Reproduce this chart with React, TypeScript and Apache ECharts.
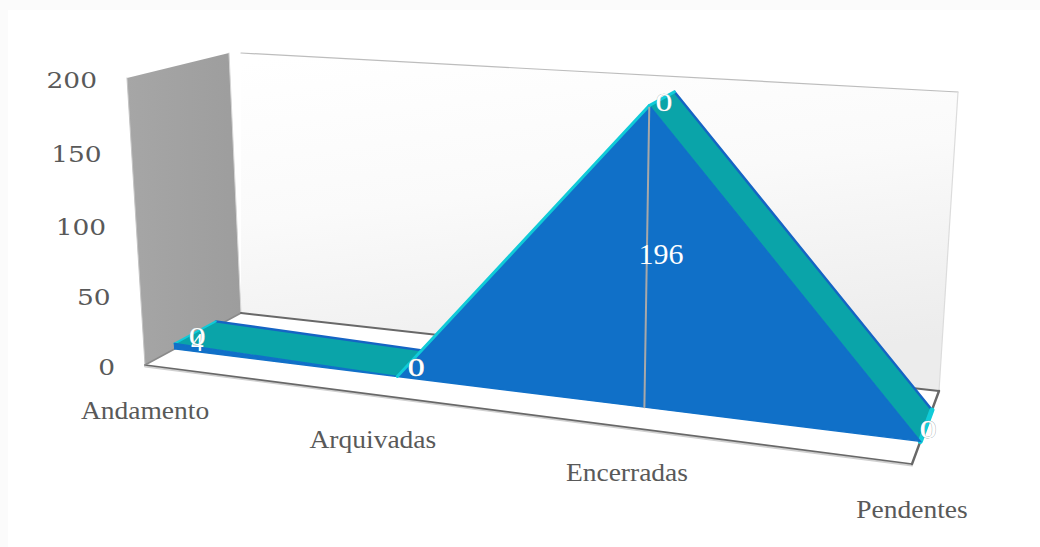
import React, { useEffect, useRef } from "react";
import * as echarts from "echarts";

const categories = ["Andamento", "Arquivadas", "Encerradas", "Pendentes"];
const valuesFront = [4, 0, 196, 0];
const valuesBack = [0, 0, 0, 0];
const axisTicks = [0, 50, 100, 150, 200];

const FONT = "'Liberation Serif', serif";
const NUM_FONT = "'DejaVu Serif', serif";
const GRID = { left: 100, top: 100, width: 600, height: 300 };
const DEPTH_A = 0.31;
const DEPTH_B = 0.74;
const DEPTH_MID = 0.525;

type P = [number, number];
// box corners on screen: order floor-left, floor-right, top-right, top-left
const frontQuad: P[] = [[145, 365], [912, 464], [932, 127], [127, 78]];
const backQuad: P[] = [[241, 313], [939, 391], [958, 92], [229, 53]];

function squareToQuad(q: P[]) {
  const [p0, p1, p2, p3] = q;
  const dx1 = p1[0] - p2[0], dx2 = p3[0] - p2[0], sx = p0[0] - p1[0] + p2[0] - p3[0];
  const dy1 = p1[1] - p2[1], dy2 = p3[1] - p2[1], sy = p0[1] - p1[1] + p2[1] - p3[1];
  const den = dx1 * dy2 - dx2 * dy1;
  const g = (sx * dy2 - dx2 * sy) / den;
  const h = (dx1 * sy - sx * dy1) / den;
  return (u: number, v: number): P => {
    const w = g * u + h * v + 1;
    return [
      ((p1[0] - p0[0] + g * p1[0]) * u + (p3[0] - p0[0] + h * p3[0]) * v + p0[0]) / w,
      ((p1[1] - p0[1] + g * p1[1]) * u + (p3[1] - p0[1] + h * p3[1]) * v + p0[1]) / w,
    ];
  };
}

function planeAt(d: number) {
  const q = frontQuad.map((f, i) => [
    f[0] + (backQuad[i][0] - f[0]) * d,
    f[1] + (backQuad[i][1] - f[1]) * d,
  ]) as P[];
  return squareToQuad(q);
}

// category index + value + depth -> screen, going through the chart's own axes
function project(api: any, cat: number, value: number, d: number): P {
  const [gx, gy] = api.coord([cat, value]);
  const u = (gx - GRID.left) / GRID.width;
  const v = (GRID.top + GRID.height - gy) / GRID.height;
  return planeAt(d)(u, v);
}

const poly = (points: P[], style: any) => ({ type: "polygon", shape: { points }, style });
const seg = (a: P, b: P, stroke: string, lineWidth: number) => ({
  type: "line",
  shape: { x1: a[0], y1: a[1], x2: b[0], y2: b[1] },
  style: { stroke, lineWidth, lineCap: "round" },
});

const stacked = valuesFront.map((v, i) => v + valuesBack[i]);
const CYAN = "#10cbd8";
const TEAL = "#0aa4a9";
const BLUE = "#1070c8";
const EDGE = "#1564c4";
const last = categories.length - 1;

function renderFrame(_: any, api: any) {
  const c = (cat: number, val: number, d: number) => project(api, cat, val, d);
  const fl = c(0, 0, 0), fr = c(last, 0, 0), bl = c(0, 0, 1), br = c(last, 0, 1);
  const tf = c(0, 200, 0), tb = c(0, 200, 1), tr = c(last, 200, 1);
  const shift = (p: P, y: number): P => [p[0], p[1] + y];
  return {
    type: "group",
    children: [
      poly([bl, br, tr, [tb[0] + 12, tb[1]]], {
        fill: new echarts.graphic.LinearGradient(0.1, 0, 0.35, 1, [
          { offset: 0, color: "#ffffff" },
          { offset: 0.45, color: "#fafafa" },
          { offset: 1, color: "#ececec" },
        ]),
      }),
      poly([fl, bl, tb, tf], {
        fill: new echarts.graphic.LinearGradient(0, 0, 1, 0, [
          { offset: 0, color: "#a6a6a6" },
          { offset: 1, color: "#9d9d9d" },
        ]),
      }),
      seg(fl, tf, "#c4c4c4", 1),
      seg(bl, tb, "#d6d6d6", 1),
      seg([tb[0] + 12, tb[1]], tr, "#bdbdbd", 1.2),
      seg(tr, br, "#dcdcdc", 1.2),
      poly([fl, fr, br, bl], { fill: "#ffffff" }),
      seg(shift(fl, 1.5), shift(fr, 1.5), "#d0d0d0", 2),
      seg(fl, fr, "#686868", 1.6),
      seg(fl, bl, "#8a8a8a", 1.6),
      seg(bl, br, "#686868", 2),
      seg(fr, br, "#686868", 2.4),
    ],
  };
}

function renderArea(_: any, api: any) {
  const children: any[] = [];
  for (let i = 0; i < last; i++) {
    const a1 = project(api, i, stacked[i], DEPTH_A);
    const a2 = project(api, i + 1, stacked[i + 1], DEPTH_A);
    const b2 = project(api, i + 1, stacked[i + 1], DEPTH_B);
    const b1 = project(api, i, stacked[i], DEPTH_B);
    const rising = stacked[i + 1] > stacked[i];
    children.push(poly([a1, a2, b2, b1], { fill: rising ? CYAN : TEAL }));
    if (!rising) children.push(seg(b1, b2, EDGE, 2.4));
  }
  const capL: P[] = [project(api, 0, stacked[0], DEPTH_A), project(api, 0, stacked[0], DEPTH_B)];
  const capR: P[] = [project(api, last, 0, DEPTH_A), project(api, last, 0, DEPTH_B)];
  children.push(seg(capL[0], capL[1], CYAN, 2));
  children.push(seg(capR[0], capR[1], CYAN, 5));
  const top = valuesFront.map((v, i) => project(api, i, v, DEPTH_A));
  const base = valuesFront.map((_v, i) => project(api, i, 0, DEPTH_A)).reverse();
  children.push(poly([...top, ...base], { fill: BLUE, stroke: BLUE, lineWidth: 1.4 }));
  valuesFront.forEach((v, i) => {
    if (i < last && valuesFront[i + 1] > v) children.push(seg(top[i], top[i + 1], CYAN, 3));
  });
  valuesFront.forEach((v, i) => {
    if (v > 0 && i > 0) children.push(seg(top[i], project(api, i, 0, DEPTH_A), "#a8a8a8", 2));
    if (v > 0 && i > 0) children.push(seg(top[i], project(api, i, stacked[i], DEPTH_B), CYAN, 3));
  });
  return { type: "group", children };
}

function renderDataLabels(_: any, api: any) {
  const children: any[] = [];
  const push = (cat: number, value: number, text: number, size: number) => {
    const p = project(api, cat, value, DEPTH_MID);
    const low = text > 0 && text < 10;
    children.push({
      type: "text",
      x: p[0] + 2,
      y: p[1] + (low ? 7 : 4),
      scaleX: text === 0 ? 1.35 : 1,
      style: {
        text: String(text),
        fill: "#ffffff",
        font: `${size}px ${FONT}`,
        align: "center",
        verticalAlign: "middle",
        stroke: text === 0 ? "#9aa" : "transparent",
        lineWidth: text === 0 ? 0.4 : 0,
      },
    });
  };
  valuesFront.forEach((v, i) => push(i, v / 2, v, v > 50 ? 30 : 25));
  valuesBack.forEach((v, i) => push(i, valuesFront[i] + v / 2, v, 25));
  return { type: "group", children };
}

function renderAxisLabels(_: any, api: any) {
  const children: any[] = [];
  axisTicks.forEach((t) => {
    const p = project(api, 0, t, 0);
    children.push({
      type: "text",
      x: p[0] - 30,
      y: p[1] + 2,
      scaleX: 1.15,
      style: {
        text: String(t),
        fill: "#595959",
        font: `23px ${NUM_FONT}`,
        align: "right",
        verticalAlign: "middle",
      },
    });
  });
  categories.forEach((name, i) => {
    const p = project(api, i, 0, 0);
    children.push({
      type: "text",
      x: p[0],
      y: p[1] + 46,
      scaleX: 1.1,
      style: {
        text: name,
        fill: "#595959",
        font: `25px ${FONT}`,
        align: "center",
        verticalAlign: "middle",
      },
    });
  });
  return { type: "group", children };
}

export default function App() {
  const ref = useRef<HTMLDivElement>(null);
  useEffect(() => {
    const chart = echarts.init(ref.current!, undefined, { renderer: "svg" });
    const single = [[0, 0]];
    chart.setOption({
      animation: false,
      backgroundColor: "#ffffff",
      graphic: [
        { type: "rect", silent: true, z: 0, shape: { x: 0, y: 0, width: 1040, height: 10 }, style: { fill: "#fbfbfb" } },
        { type: "rect", silent: true, z: 0, shape: { x: 0, y: 10, width: 8, height: 537 }, style: { fill: "#fbfbfb" } },
      ],
      grid: GRID,
      xAxis: { type: "category", data: categories, boundaryGap: false, show: false },
      yAxis: { type: "value", min: 0, max: 200, interval: 50, show: false },
      series: [
        { type: "custom", name: "Estrutura", silent: true, data: single, renderItem: renderFrame, z: 1 },
        { type: "custom", name: "Área", silent: true, data: single, renderItem: renderArea, z: 2 },
        { type: "custom", name: "Rótulos", silent: true, data: single, renderItem: renderDataLabels, z: 3 },
        { type: "custom", name: "Eixos", silent: true, data: single, renderItem: renderAxisLabels, z: 4 },
      ],
    });
    return () => chart.dispose();
  }, []);
  return (
    <div
      ref={ref}
      style={{ position: "absolute", left: 0, top: 0, width: 1040, height: 547 }}
    />
  );
}
